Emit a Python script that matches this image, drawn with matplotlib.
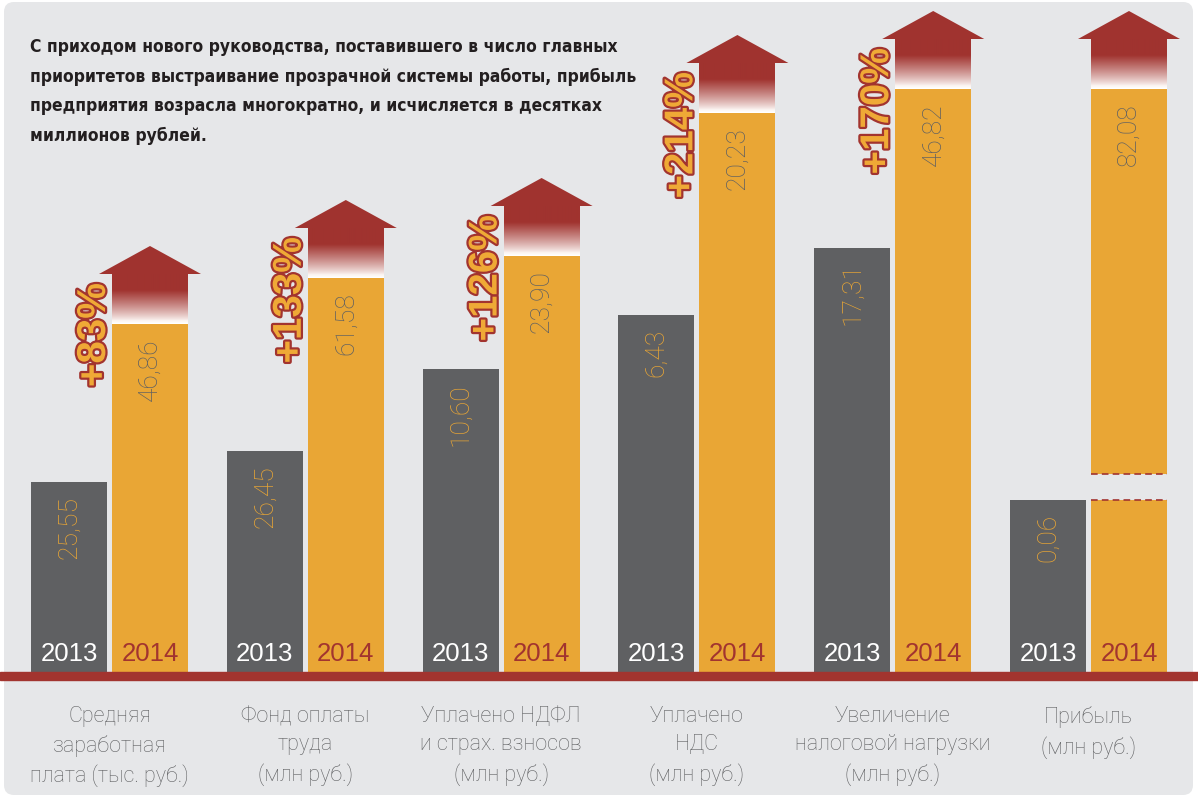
import numpy as np
import matplotlib
matplotlib.use("Agg")
import matplotlib.pyplot as plt
import matplotlib.patheffects as pe
from matplotlib import font_manager
from matplotlib.patches import FancyBboxPatch, Polygon, Rectangle

# data
categories = ["Средняя\nзаработная\nплата (тыс. руб.)",
              "Фонд оплаты\nтруда\n(млн руб.)",
              "Уплачено НДФЛ\nи страх. взносов\n(млн руб.)",
              "Уплачено\nНДС\n(млн руб.)",
              "Увеличение\nналоговой нагрузки\n(млн руб.)",
              "Прибыль\n(млн руб.)"]
labels_2013 = ["25,55", "26,45", "10,60", "6,43", "17,31", "0,06"]
labels_2014 = ["46,86", "61,58", "23,90", "20,23", "46,82", "82,08"]
growth = ["+83%", "+133%", "+126%", "+214%", "+170%", None]
# drawn bar heights (the infographic is not to scale), px above the baseline
bar_h_2013 = [190, 221, 303, 357, 424, 172]
bar_h_2014 = [348, 394, 416, 559, 583, 583]
title_lines = ["С приходом нового руководства, поставившего в число главных",
               "приоритетов выстраивание прозрачной системы работы, прибыль",
               "предприятия возрасла многократно, и исчисляется в десятках",
               "миллионов рублей."]

# colours
GRAY = "#5f6062"
ORANGE = "#e9a635"
RED = "#a2342f"
PANEL = "#e6e7e9"

W, H = 1198, 797
fig = plt.figure(figsize=(W / 100, H / 100), dpi=100)
fig.patch.set_facecolor("white")
ax = fig.add_axes([0, 0, 1, 1])
ax.set_xlim(0, W)
ax.set_ylim(0, H)
ax.axis("off")

# background panel
ax.add_patch(FancyBboxPatch((4, 2), 1189, 793, boxstyle="round,pad=0,rounding_size=10",
                            facecolor=PANEL, edgecolor="none", zorder=0))

base = 125
bw = 76
step = 195.8
x13 = 31 + bw / 2 + step * np.arange(len(categories))
x14 = x13 + bw + 5

ax.bar(x13, bar_h_2013, width=bw, bottom=base, color=GRAY, zorder=2)
ax.bar(x14, bar_h_2014, width=bw, bottom=base, color=ORANGE, zorder=2)

# break in the last 2014 bar
gap_lo = base + bar_h_2013[-1]
gap_hi = gap_lo + 26
ax.add_patch(Rectangle((x14[-1] - bw / 2 - 1, gap_lo), bw + 2, gap_hi - gap_lo,
                       facecolor=PANEL, edgecolor="none", zorder=3))
for yy in (gap_lo, gap_hi):
    ax.hlines(yy, x14[-1] - bw / 2, x14[-1] + bw / 2, colors=RED, linestyles=(0, (4, 2.5)),
              linewidth=1.2, zorder=4)

# baseline band
ax.axhspan(base - 8, base, color=RED, zorder=3)

# gradient arrows over the 2014 bars
red_rgb = np.array(matplotlib.colors.to_rgb("#a0332f"))
t = np.linspace(0, 1, 100)
s = np.clip((t - 0.06) / 0.62, 0, 1) ** 0.85
grad = (1 - s)[:, None] * np.array([0.99, 0.97, 0.96]) + s[:, None] * red_rgb
grad[:3] = [1, 1, 1]
grad = grad[:, None, :]
for i, xc in enumerate(x14):
    top = base + bar_h_2014[i]
    ax.imshow(grad, extent=[xc - bw / 2, xc + bw / 2, top, top + 50], origin="lower",
              aspect="auto", interpolation="bilinear", zorder=3)
    ax.add_patch(Polygon([(xc - bw / 2 - 13, top + 50), (xc + bw / 2 + 13, top + 50),
                          (xc, top + 78)], closed=True, facecolor="#a0332f",
                         edgecolor="none", zorder=3))
    if growth[i]:
        ax.text(xc - bw / 2 - 18, top + 41, growth[i], rotation=90, ha="center", va="top",
                fontsize=29, fontweight="bold", family="Liberation Sans", color="#efa936",
                zorder=5,
                path_effects=[pe.Stroke(linewidth=3.2, foreground=RED), pe.Normal()])

# value labels
for i in range(len(categories)):
    ax.text(x13[i], base + bar_h_2013[i] - 14, labels_2013[i], rotation=90, ha="center",
            va="top", fontsize=19, family="Roboto", fontweight="light", color=ORANGE, zorder=5)
    ax.text(x14[i], base + bar_h_2014[i] - 14, labels_2014[i], rotation=90, ha="center",
            va="top", fontsize=19, family="Roboto", fontweight="light", color=GRAY, zorder=5)
    ax.text(x13[i], 143, "2013", ha="center", va="center", fontsize=18.5,
            family="Liberation Sans", color="white", zorder=5)
    ax.text(x14[i], 143, "2014", ha="center", va="center", fontsize=18.5,
            family="Liberation Sans", color=RED, zorder=5)
    ax.text((x13[i] + x14[i]) / 2, 91, categories[i], ha="center", va="top", fontsize=15.5,
            family="Roboto", fontweight="light", color=GRAY, linespacing=1.45, zorder=5)

# heading: pick a narrow bold face if one is installed, then fit the first line's width
narrow = None
for f in font_manager.fontManager.ttflist:
    name = f.fname.lower()
    if ("narrow" in name or "condensed" in name) and ("bold" in name) and ("oblique" not in name) \
            and ("italic" not in name):
        narrow = f.fname
        break
if narrow:
    head_font = font_manager.FontProperties(fname=narrow)
else:
    head_font = font_manager.FontProperties(family="Liberation Sans", weight="bold")

head_texts = []
for k, line in enumerate(title_lines):
    head_texts.append(ax.text(30, 750 - 29.5 * k, line, ha="left", va="center",
                              fontproperties=head_font, fontsize=16, color="#231f20", zorder=5))
fig.canvas.draw()
rend = fig.canvas.get_renderer()
w0 = head_texts[0].get_window_extent(rend).width
size = min(16 * 587 / w0, 17)
for tx in head_texts:
    tx.set_fontsize(size)

fig.savefig("out.png", dpi=100, facecolor="white")
